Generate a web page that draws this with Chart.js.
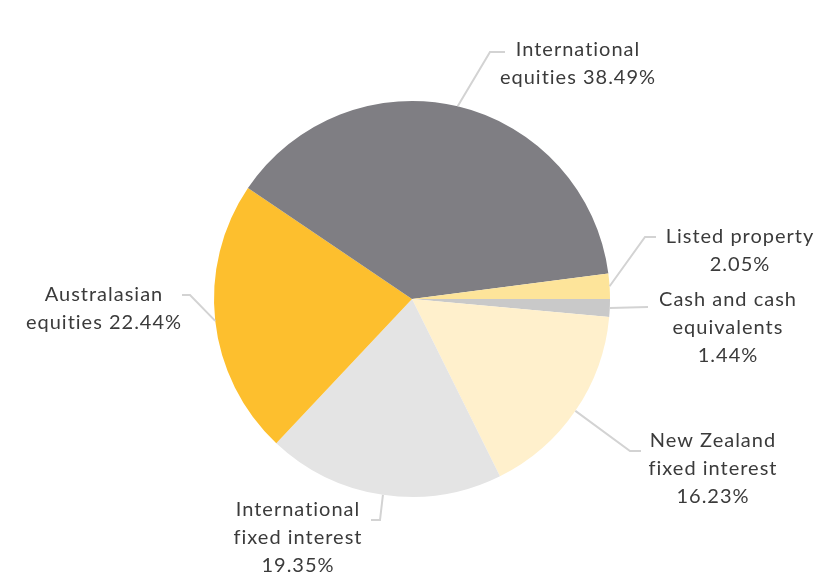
<!DOCTYPE html>
<html>
<head>
<meta charset="utf-8">
<script src="https://cdn.jsdelivr.net/npm/chart.js@4/dist/chart.umd.min.js"></script>
<style>
  html, body { margin: 0; padding: 0; background: #fff; }
  #wrap { width: 822px; height: 586px; position: relative; }
</style>
</head>
<body>
<div id="wrap"><canvas id="pie"></canvas></div>
<script>
// slices in clockwise order, starting at 3 o'clock
const categories = [
  'Cash and cash equivalents',
  'New Zealand fixed interest',
  'International fixed interest',
  'Australasian equities',
  'International equities',
  'Listed property'
];
const shares = [1.44, 16.23, 19.35, 22.44, 38.49, 2.05];
const labelLines = [
  ['Cash and cash', 'equivalents', '1.44%'],
  ['New Zealand', 'fixed interest', '16.23%'],
  ['International', 'fixed interest', '19.35%'],
  ['Australasian', 'equities 22.44%'],
  ['International', 'equities 38.49%'],
  ['Listed property', '2.05%']
];
const colors = ['#c9c9c9', '#fff0cc', '#e4e4e4', '#fdbf2e', '#7f7e83', '#fde49a'];

// leader line elbow / end and text anchor for each label
const placement = [
  { elbow: [648, 307], end: [648, 307], tx: 728, ty: 300 },
  { elbow: [630, 451], end: [641, 451], tx: 713, ty: 441 },
  { elbow: [380, 520], end: [371, 520], tx: 298, ty: 510 },
  { elbow: [190, 295], end: [182, 295], tx: 104, ty: 295 },
  { elbow: [490, 52], end: [505, 52], tx: 578, ty: 50 },
  { elbow: [645, 237], end: [656, 237], tx: 740, ty: 237 }
];

const outsideLabels = {
  id: 'outsideLabels',
  afterDatasetsDraw(chart) {
    const ctx = chart.ctx;
    const arcs = chart.getDatasetMeta(0).data;
    ctx.save();
    arcs.forEach((arc, i) => {
      const p = placement[i];
      const mid = (arc.startAngle + arc.endAngle) / 2;
      const sx = arc.x + Math.cos(mid) * arc.outerRadius;
      const sy = arc.y + Math.sin(mid) * arc.outerRadius;
      ctx.strokeStyle = '#d3d3d3';
      ctx.lineWidth = 2;
      ctx.beginPath();
      ctx.moveTo(sx, sy);
      ctx.lineTo(p.elbow[0], p.elbow[1]);
      ctx.lineTo(p.end[0], p.end[1]);
      ctx.stroke();

      ctx.fillStyle = '#3b3b3b';
      ctx.font = '20px Lato, "Liberation Sans", sans-serif';
      ctx.letterSpacing = '1px';
      ctx.textAlign = 'center';
      ctx.textBaseline = 'middle';
      labelLines[i].forEach((line, k) => {
        ctx.fillText(line, p.tx, p.ty + k * 28);
      });
    });
    ctx.restore();
  }
};

new Chart(document.getElementById('pie'), {
  type: 'pie',
  data: {
    labels: categories,
    datasets: [{
      data: shares,
      backgroundColor: colors,
      borderWidth: 0
    }]
  },
  options: {
    responsive: true,
    maintainAspectRatio: false,
    animation: false,
    rotation: 90,
    layout: { padding: { left: 214, right: 212, top: 101, bottom: 89 } },
    plugins: {
      legend: { display: false },
      tooltip: { enabled: false }
    }
  },
  plugins: [outsideLabels]
});
</script>
</body>
</html>
